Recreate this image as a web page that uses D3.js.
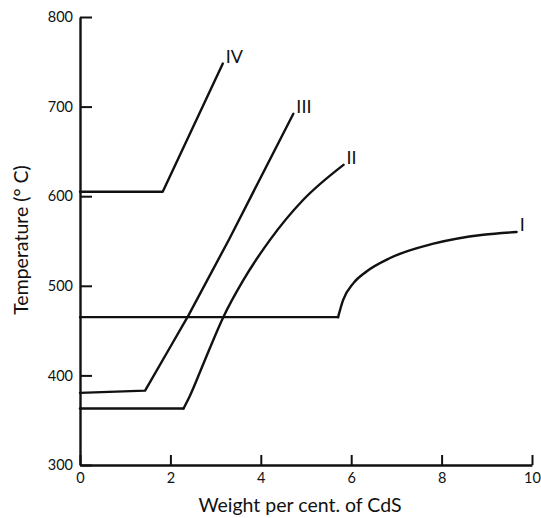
<!DOCTYPE html>
<html>
<head>
<meta charset="utf-8">
<script src="https://cdn.jsdelivr.net/npm/d3@7"></script>
<style>
  body { margin: 0; background: #fff; }
  text { font-family: Lato, "Open Sans", sans-serif; fill: #111; }
</style>
</head>
<body>
<div id="main"></div>
<script>
// values: weight per cent CdS vs temperature (deg C)
const xTicks = [0, 2, 4, 6, 8, 10];
const yTicks = [300, 400, 500, 600, 700, 800];

const curveI_flat = [[0, 465], [5.71, 465]];
const curveI = [[5.71, 465], [5.82, 484], [6.05, 503], [6.34, 516], [6.86, 531], [7.82, 547], [8.92, 557], [9.66, 560]];
const curveII_flat = [[0, 363], [2.29, 363]];
const curveII = [[2.29, 363], [2.43, 377], [2.73, 413], [3.17, 465], [3.61, 506], [4.20, 551], [4.94, 596], [5.83, 635]];
const curveIII = [[0, 380.5], [1.44, 383], [2.0, 432], [2.4, 467], [3.3, 552], [4.72, 692]];
const curveIV = [[0, 605], [1.83, 605], [3.16, 748]];

const labels = [
    {t: "I", x: 9.66, y: 560},
    {t: "II", x: 5.83, y: 635},
    {t: "III", x: 4.72, y: 692},
    {t: "IV", x: 3.16, y: 748},
];

const ctx = {
    w: 541,
    h: 518,
    left: 80,
    right: 532,
    top: 17,
    bottom: 465,
    STROKE: 2.4,
};

function createViz(){
    let svg = d3.select("#main").append("svg")
        .attr("width", ctx.w)
        .attr("height", ctx.h);

    const x = d3.scaleLinear().domain([0, 10]).range([ctx.left, ctx.right]);
    const y = d3.scaleLinear().domain([300, 800]).range([ctx.bottom, ctx.top]);

    // axes, ticks pointing inward like the printed figure
    let gx = svg.append("g")
        .attr("transform", `translate(0,${ctx.bottom})`)
        .call(d3.axisBottom(x).tickValues(xTicks).tickSize(-10).tickSizeOuter(0).tickPadding(8));
    let gy = svg.append("g")
        .attr("transform", `translate(${ctx.left},0)`)
        .call(d3.axisLeft(y).tickValues(yTicks).tickSize(-12).tickSizeOuter(0).tickPadding(7));

    [gx, gy].forEach(g => {
        g.select(".domain").attr("stroke", "#111").attr("stroke-width", ctx.STROKE);
        g.selectAll(".tick line").attr("stroke", "#111").attr("stroke-width", 2);
        g.selectAll(".tick text").style("font-size", "14.5px").attr("fill", "#111");
    });

    const lin = d3.line().x(d => x(d[0])).y(d => y(d[1]));
    const smooth = d3.line().x(d => x(d[0])).y(d => y(d[1])).curve(d3.curveMonotoneX);

    let g = svg.append("g").attr("fill", "none").attr("stroke", "#111")
        .attr("stroke-width", ctx.STROKE).attr("stroke-linejoin", "round").attr("stroke-linecap", "round");
    g.append("path").attr("d", lin(curveI_flat));
    g.append("path").attr("d", smooth(curveI));
    g.append("path").attr("d", lin(curveII_flat));
    g.append("path").attr("d", smooth(curveII));
    g.append("path").attr("d", lin(curveIII));
    g.append("path").attr("d", lin(curveIV));

    svg.append("g").selectAll("text")
        .data(labels)
        .enter()
        .append("text")
        .attr("x", d => x(d.x) + 3)
        .attr("y", d => y(d.y) - 1)
        .style("font-size", "18px")
        .text(d => d.t);

    svg.append("text")
        .attr("x", 300)
        .attr("y", 512)
        .attr("text-anchor", "middle")
        .style("font-size", "19.5px")
        .text("Weight per cent. of CdS");

    svg.append("text")
        .attr("transform", "translate(28,240) rotate(-90)")
        .attr("text-anchor", "middle")
        .style("font-size", "19.5px")
        .text("Temperature (° C)");
}

createViz();
</script>
</body>
</html>
